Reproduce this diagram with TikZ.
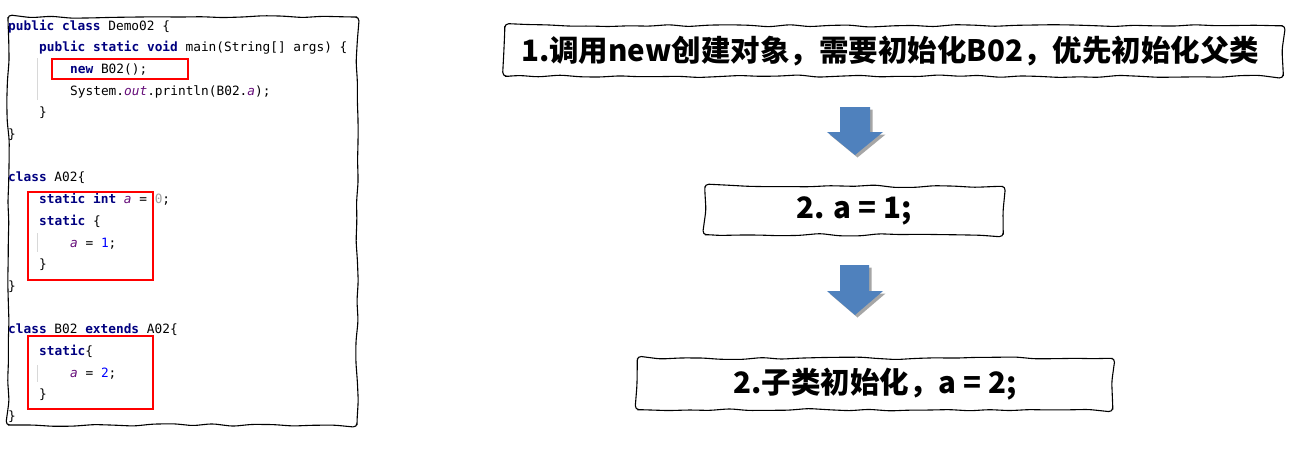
\documentclass[tikz,border=0pt]{standalone}
\usepackage{fontspec}
\usetikzlibrary{decorations.pathmorphing,shadows,calc}
\newfontfamily\cjk{Noto Sans CJK SC}
\newfontfamily\codefont{DejaVu Sans Mono}
\definecolor{kwblue}{HTML}{000080}
\definecolor{varpurple}{HTML}{660E7A}
\definecolor{numblue}{HTML}{0000FF}
\definecolor{numgray}{HTML}{A0A0A0}
\definecolor{arrowblue}{HTML}{4F81BD}
\definecolor{guide}{HTML}{D8D8D8}
\newcommand\kw[1]{\textcolor{kwblue}{\bfseries #1}}
\newcommand\va[1]{\textcolor{varpurple}{\itshape #1}}
\newcommand\nm[1]{\textcolor{numblue}{#1}}
\tikzset{
  code/.style={anchor=base west, inner sep=0pt, font=\codefont\fontsize{12.8}{15}\selectfont},
  handdrawn/.style={draw=black, line width=1.1pt, decorate,
    decoration={random steps, segment length=20pt, amplitude=1.3pt}, rounded corners=4pt},
  stepbox/.style={inner sep=0pt, font=\cjk\bfseries\fontsize{29.5}{36}\selectfont},
  redbox/.style={draw=red, line width=2pt},
  blockarrow/.style={fill=arrowblue, drop shadow={shadow xshift=2.5pt, shadow yshift=-2.5pt, opacity=0.35, fill=black}},
}
\newcommand\sketchbox[1]{%
  \fill[white] (#1.north west) rectangle (#1.south east);
  \draw[handdrawn] (#1.north) -- (#1.north east) -- (#1.south east) -- (#1.south west)
    -- (#1.north west) -- (#1.north);}
\begin{document}
\begin{tikzpicture}[x=1pt,y=-1pt]
\pgfmathsetseed{7}
\useasboundingbox (0,0) rectangle (1296,451);
% code frame
\coordinate (fnw) at (8,17);
\coordinate (fse) at (357,425);
\draw[handdrawn] (182,17) -- (fse |- fnw) -- (fse) -- (fnw |- fse) -- (fnw) -- (182,17);
% indent guides
\draw[guide, line width=0.6pt] (37,58) -- (37,100);
\draw[guide, line width=0.6pt] (37,233) -- (37,252);
\draw[guide, line width=0.6pt] (37,365) -- (37,382);
% code lines
\node[code] (c0)  at (8,30)    {\kw{public class} Demo02 \{};
\node[code] (c1)  at (39,51.7) {\kw{public static void} main(String[] args) \{};
\node[code] (c2)  at (70,73.4) {\kw{new} B02();};
\node[code] (c3)  at (70,95.1) {System.\va{out}.println(B02.\va{a});};
\node[code] (c4)  at (39,116.8){\}};
\node[code] (c5)  at (8,138.5) {\}};
\node[code] (c7)  at (8,181.9) {\kw{class} A02\{};
\node[code] (c8)  at (39,203.6){\kw{static int} \va{a} = \textcolor{numgray}{0};};
\node[code] (c9)  at (39,225.3){\kw{static} \{};
\node[code] (c10) at (70,247)  {\va{a} = \nm{1};};
\node[code] (c11) at (39,268.7){\}};
\node[code] (c12) at (8,290.4) {\}};
\node[code] (c14) at (8,333.8) {\kw{class} B02 \kw{extends} A02\{};
\node[code] (c15) at (39,355.5){\kw{static}\{};
\node[code] (c16) at (70,377.2){\va{a} = \nm{2};};
\node[code] (c17) at (39,398.9){\}};
\node[code] (c18) at (8,420.6) {\}};
% red highlight boxes
\draw[redbox] (52,59) rectangle (188,79);
\draw[redbox] (28,192) rectangle (153,280);
\draw[redbox] (28,336) rectangle (153,409);
% step boxes
\node[stepbox, minimum width=778pt, minimum height=50pt] (b1) at (894,51) {};
\node[stepbox, minimum width=298pt, minimum height=48pt] (b2) at (854,210.5) {};
\node[stepbox, minimum width=475pt, minimum height=51pt] (b3) at (875,384) {};
\sketchbox{b1}
\sketchbox{b2}
\sketchbox{b3}
\node[stepbox] (t1) at ([xshift=-4pt]b1.center) {1.调用new创建对象，需要初始化B02，优先初始化父类};
\node[stepbox] (t2) at (b2.center) {2. a = 1;};
\node[stepbox] (t3) at (b3.center) {2.子类初始化，a = 2;};
% block arrows
\fill[blockarrow] (840,107) -- (870,107) -- (870,132) -- (883,132) -- (855,155)
  -- (827,132) -- (840,132) -- cycle;
\fill[blockarrow] (840,265) -- (869,265) -- (869,291) -- (883,291) -- (855,315)
  -- (827,291) -- (840,291) -- cycle;
\end{tikzpicture}
\end{document}
